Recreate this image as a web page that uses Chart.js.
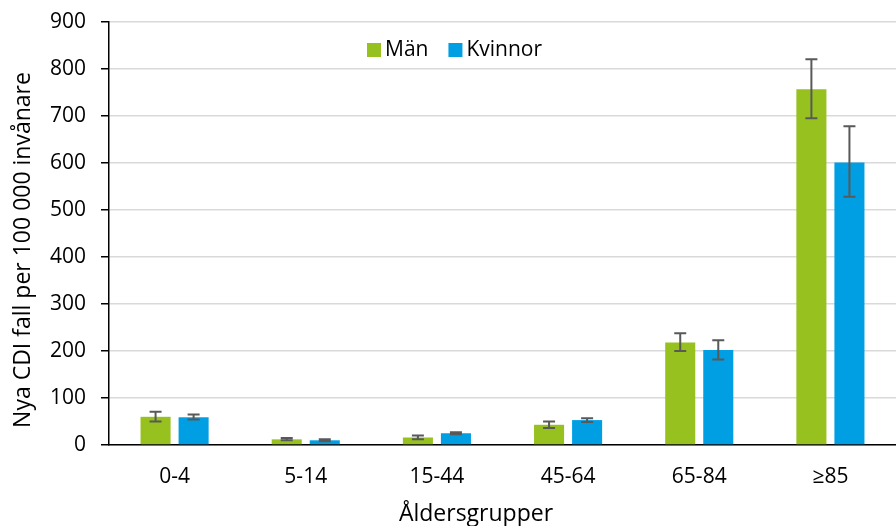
<!DOCTYPE html>
<html>
<head>
<meta charset="utf-8">
<script src="https://cdn.jsdelivr.net/npm/chart.js@4/dist/chart.umd.min.js"></script>
<style>
  body { margin: 0; background: #fff; }
</style>
</head>
<body>
<canvas id="canvas1" width="896" height="526"></canvas>
<script>
// age groups on the x axis
let categories = ['0-4', '5-14', '15-44', '45-64', '65-84', '≥85'];

// new CDI cases per 100 000, men
let man     = [60, 12, 16, 43, 218, 757];
let manLow  = [50, 10, 12, 36, 200, 695];
let manHigh = [71, 15, 20, 50, 238, 821];

// new CDI cases per 100 000, women
let kvinnor     = [59, 10, 25, 53, 202, 601];
let kvinnorLow  = [54,  8, 23, 49, 182, 528];
let kvinnorHigh = [65, 12, 27, 57, 223, 678];

let yTicks = [0, 100, 200, 300, 400, 500, 600, 700, 800, 900];

let xTitle = 'Åldersgrupper';
let yTitle = 'Nya CDI fall per 100 000 invånare';

let green = '#96C11F';
let blue  = '#009FE3';
let font  = 'Open Sans';

// error bars drawn on top of the bars
let errorBars = {
  id: 'errorBars',
  afterDatasetsDraw(chart) {
    let ctx = chart.ctx;
    let y = chart.scales.y;
    let ranges = [[manLow, manHigh], [kvinnorLow, kvinnorHigh]];
    ctx.save();
    ctx.strokeStyle = '#595959';
    ctx.lineWidth = 2;
    chart.data.datasets.forEach(function(ds, d) {
      let meta = chart.getDatasetMeta(d);
      meta.data.forEach(function(bar, i) {
        let top = y.getPixelForValue(ranges[d][1][i]);
        let bot = y.getPixelForValue(ranges[d][0][i]);
        ctx.beginPath();
        ctx.moveTo(bar.x, top);
        ctx.lineTo(bar.x, bot);
        ctx.moveTo(bar.x - 6, top);
        ctx.lineTo(bar.x + 6, top);
        ctx.moveTo(bar.x - 6, bot);
        ctx.lineTo(bar.x + 6, bot);
        ctx.stroke();
      });
    });
    ctx.restore();
  }
};

// legend inside the plot and the two axis titles, placed like the original
let labelsPlugin = {
  id: 'labelsPlugin',
  afterDraw(chart) {
    let ctx = chart.ctx;
    let area = chart.chartArea;
    ctx.save();

    // legend
    let x = area.left + 258;
    let yMid = area.top + 28;
    ctx.font = '21px "' + font + '"';
    ctx.textBaseline = 'middle';
    chart.data.datasets.forEach(function(ds) {
      ctx.fillStyle = ds.backgroundColor;
      ctx.fillRect(x, yMid - 7, 14, 14);
      ctx.fillStyle = '#000';
      ctx.fillText(ds.label, x + 18, yMid);
      x += 18 + ctx.measureText(ds.label).width + 20;
    });

    // axis titles
    ctx.font = '23px "' + font + '"';
    ctx.textAlign = 'center';
    ctx.fillText(xTitle, area.left + 367, area.bottom + 69);
    ctx.translate(23, area.top + 228);
    ctx.rotate(-Math.PI / 2);
    ctx.fillText(yTitle, 0, 0);
    ctx.restore();
  }
};

let options = {
  type: 'bar',
  data: {
    labels: categories,
    datasets: [{
      label: 'Män',
      data: man,
      backgroundColor: green,
      categoryPercentage: 0.58,
      barPercentage: 0.79
    }, {
      label: 'Kvinnor',
      data: kvinnor,
      backgroundColor: blue,
      categoryPercentage: 0.58,
      barPercentage: 0.79
    }]
  },
  options: {
    responsive: false,
    animation: false,
    layout: { padding: { top: 22, right: 0, left: 0, bottom: 0 } },
    plugins: {
      legend: { display: false },
      tooltip: { enabled: false }
    },
    scales: {
      x: {
        grid: { display: false, drawTicks: false },
        border: { display: true, color: '#000', width: 1.5 },
        ticks: { color: '#000', padding: 19, font: { family: font, size: 21 } },
        afterFit(scale) { scale.height = 81; }
      },
      y: {
        min: 0,
        max: 900,
        afterBuildTicks(scale) { scale.ticks = yTicks.map(v => ({ value: v })); },
        grid: { color: '#D9D9D9', lineWidth: 1.5, tickLength: 8, tickColor: '#000' },
        border: { display: true, color: '#000', width: 1.5 },
        ticks: { color: '#000', padding: 15, font: { family: font, size: 21 } },
        afterFit(scale) {
          scale.width = 109;
          scale.paddingTop = 0;
          scale.paddingBottom = 0;
        }
      }
    }
  },
  plugins: [errorBars, labelsPlugin]
};

let chart = new Chart(document.getElementById('canvas1'), options);
</script>
</body>
</html>
